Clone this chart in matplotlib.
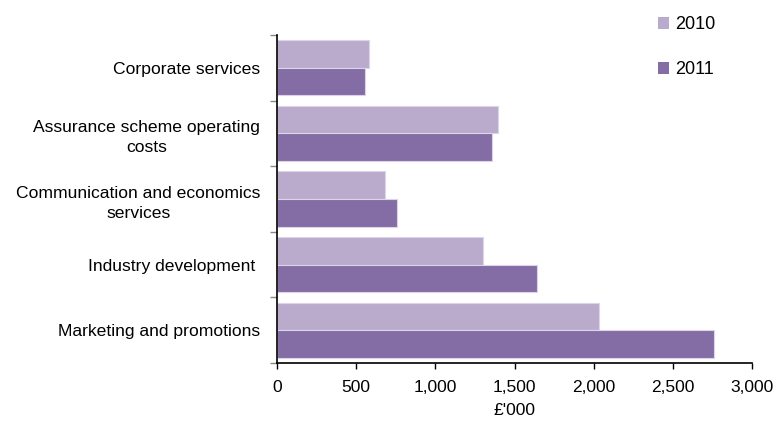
import matplotlib
matplotlib.use('Agg')
import matplotlib.pyplot as plt
import numpy as np
from matplotlib.patches import Patch

# Data, top to bottom
categories = ['Corporate services',
              'Assurance scheme operating\ncosts',
              'Communication and economics\nservices',
              'Industry development ',
              'Marketing and promotions']
values_2010 = [582, 1393, 683, 1298, 2035]
values_2011 = [556, 1359, 759, 1643, 2762]
series_labels = ['2010', '2011']
x_ticks = [0, 500, 1000, 1500, 2000, 2500, 3000]

col_2010 = '#BAABCC'
col_2011 = '#846DA4'
edge_col = '#DCD4E8'

plt.rcParams['font.family'] = ['Liberation Sans', 'DejaVu Sans']

fig = plt.figure(figsize=(7.76, 4.32), dpi=100)
ax = fig.add_axes([277 / 776, 1 - 363 / 432, 475 / 776, 328 / 432])

y = np.arange(len(categories))
h = 0.42
ax.barh(y - h / 2, values_2010, height=h, color=col_2010, edgecolor=edge_col, linewidth=0.8)
ax.barh(y + h / 2, values_2011, height=h, color=col_2011, edgecolor=edge_col, linewidth=0.8)

ax.set_xlim(0, 3000)
ax.set_ylim(len(categories) - 0.5, -0.5)

ax.set_xticks(x_ticks)
ax.set_xticklabels([f'{v:,}' for v in x_ticks], fontsize=12.5)
ax.set_xlabel("£'000", fontsize=12.5, labelpad=6)

ax.set_yticks(y)
ax.set_yticklabels(categories, fontsize=12.6, multialignment='center',
                   linespacing=1.45)
ax.set_yticks(np.arange(len(categories) + 1) - 0.5, minor=True)
ax.tick_params(axis='y', which='major', length=0, pad=12)
ax.tick_params(axis='y', which='minor', length=5, color='#888888', width=1)
ax.tick_params(axis='x', which='major', length=4, width=1, pad=8)

for side in ['top', 'right']:
    ax.spines[side].set_visible(False)
ax.spines['left'].set_linewidth(1.2)
ax.spines['bottom'].set_linewidth(1.2)

handles = [Patch(facecolor=col_2010, edgecolor='none'),
           Patch(facecolor=col_2011, edgecolor='none')]
fig.legend(handles, series_labels, loc='upper left',
           bbox_to_anchor=(642 / 776, 1 - 0 / 432), frameon=False,
           fontsize=13, handlelength=0.6, handleheight=0.6,
           handletextpad=0.35, labelspacing=1.55)

fig.savefig('out.png', dpi=100)
